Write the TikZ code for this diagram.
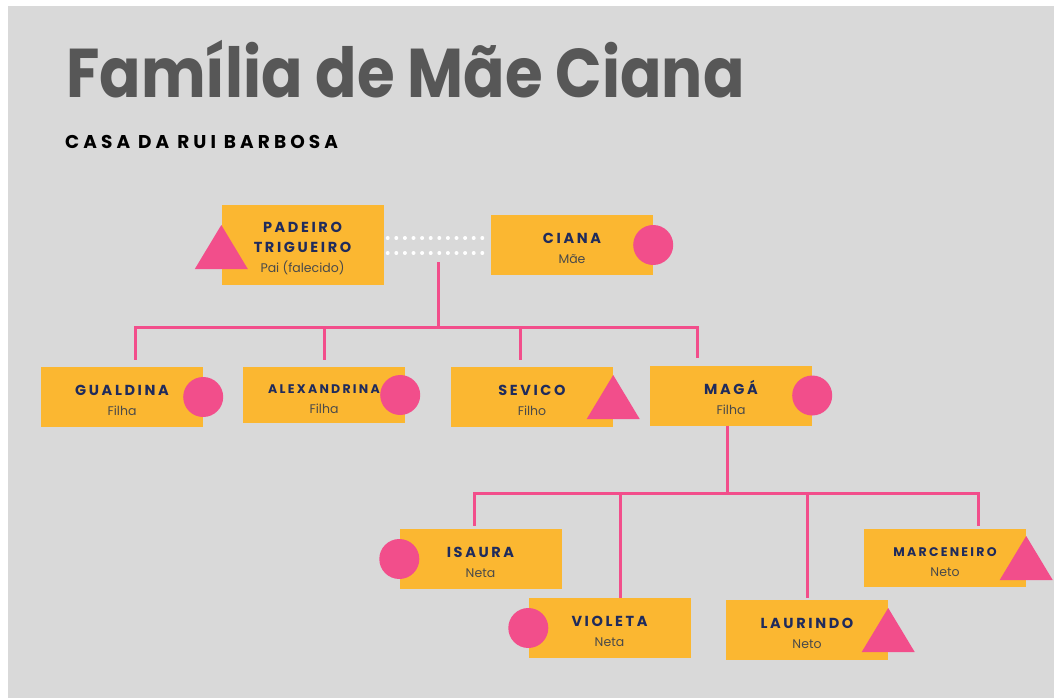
\documentclass[tikz,border=0pt]{standalone}
\usepackage{fontspec}
\setmainfont{Poppins}
\newfontfamily\namefont[LetterSpace=18]{Poppins}
\newfontfamily\headfont[LetterSpace=22]{Poppins}

\definecolor{bggray}{HTML}{D9D9D9}
\definecolor{boxorange}{HTML}{FBB731}
\definecolor{markpink}{HTML}{F24E8B}
\definecolor{namenavy}{HTML}{1F2B5C}
\definecolor{rolegray}{HTML}{4A4A4A}
\definecolor{titlegray}{HTML}{575757}

\newcommand{\membername}[1]{{\rule{0pt}{18pt}\namefont\bfseries\fontsize{14.5}{20}\selectfont\color{namenavy}#1}}
\newcommand{\smallname}[1]{{\rule{0pt}{18pt}\namefont\bfseries\fontsize{12.5}{20}\selectfont\color{namenavy}#1}}
\newcommand{\memberrole}[1]{{\fontsize{12.5}{20}\selectfont\color{rolegray}#1}}

\begin{document}
\begin{tikzpicture}[x=1pt, y=-1pt,
		box/.style={fill=boxorange, minimum width=162pt, minimum height=60pt, inner sep=0pt, align=center, font=\fontsize{12.5}{20}\selectfont},
		female/.style={circle, fill=markpink, minimum size=40pt, inner sep=0pt},
		male/.pic={\fill[markpink] (0,-22) -- (-26.5,22) -- (26.5,22) -- cycle;},
		link/.style={markpink, line width=3pt},
		marriage/.style={white, line width=4pt, line cap=round, dash pattern=on 0pt off 8.6pt}]
		\useasboundingbox (0,0) rectangle (1054,698);
		\fill[white] (0,0) rectangle (1054,698);
		\fill[bggray] (8,6) rectangle (1054,698);

		% heading
		\node[anchor=base west, inner sep=0pt, xscale=0.885, transform shape, text=titlegray, font=\bfseries\fontsize{69}{69}\selectfont] (title) at (66,98) {Família de Mãe Ciana};
		\node[anchor=base west, inner sep=0pt, font=\headfont\bfseries\fontsize{18.5}{18.5}\selectfont] (subtitle) at (65,148) {CASA DA RUI BARBOSA};

		% parents
		\node[box, minimum height=80pt] (pad) at (302.5,244.5) {\membername{PADEIRO}\\\membername{TRIGUEIRO}\\\memberrole{Pai (falecido)}};
		\node[box] (ciana) at (572,245) {\membername{CIANA}\\\memberrole{Mãe}};
		\pic at ([yshift=-2.5pt]pad.west) {male};
		\node[female] (ciana-mark) at (ciana.east) {};
		\draw[marriage] ([xshift=4pt,yshift=6.5pt]pad.east) -- ([yshift=6.5pt]pad.east -| ciana.west);
		\draw[marriage] ([xshift=4pt,yshift=-8.5pt]pad.east) -- ([yshift=-8.5pt]pad.east -| ciana.west);

		% children
		\node[box] (gual) at (122,397) {\membername{GUALDINA}\\\memberrole{Filha}};
		\node[box, minimum height=56pt] (alex) at (324,395) {\smallname{ALEXANDRINA}\\\memberrole{Filha}};
		\node[box] (sev) at (532,397) {\membername{SEVICO}\\\memberrole{Filho}};
		\node[box] (maga) at (731,395.5) {\membername{MAGÁ}\\\memberrole{Filha}};
		\node[female] (gual-mark) at (gual.east) {};
		\node[female] (alex-mark) at ([xshift=-5pt]alex.east) {};
		\pic at (sev.east) {male};
		\node[female] (maga-mark) at (maga.east) {};

		% grandchildren
		\node[box] (isaura) at (480.5,559) {\membername{ISAURA}\\\memberrole{Neta}};
		\node[box] (violeta) at (609.5,628) {\membername{VIOLETA}\\\memberrole{Neta}};
		\node[box] (laurindo) at (807,630) {\membername{LAURINDO}\\\memberrole{Neto}};
		\node[box, minimum height=58pt] (marc) at (945,558) {\smallname{MARCENEIRO}\\\memberrole{Neto}};
		\node[female] (isaura-mark) at (isaura.west) {};
		\node[female] (violeta-mark) at (violeta.west) {};
		\pic at (laurindo.east) {male};
		\pic at (marc.east) {male};

		% tree lines
		\coordinate (union) at (438,262);
		\coordinate (busA) at (438,327);
		\coordinate (busB) at (727,493);
		\draw[link] (union) -- (busA);
		\draw[link] ([xshift=13pt,yshift=7pt]gual.north) |- (busA) -| ([xshift=-34pt,yshift=7pt]maga.north);
		\draw[link] ([yshift=7pt]alex.north) -- (alex.north |- busA);
		\draw[link] ([xshift=-12pt,yshift=7pt]sev.north) -- ([xshift=-12pt]sev.north |- busA);
		\draw[link] ([xshift=-4pt]maga.south) -- (busB);
		\draw[link] ([xshift=-6.5pt,yshift=3pt]isaura.north) |- (busB) -| ([xshift=33pt,yshift=3pt]marc.north);
		\draw[link] ([xshift=10.5pt]violeta.north) -- ([xshift=10.5pt]violeta.north |- busB);
		\draw[link] ([yshift=2pt]laurindo.north) -- (laurindo.north |- busB);
\end{tikzpicture}
\end{document}
